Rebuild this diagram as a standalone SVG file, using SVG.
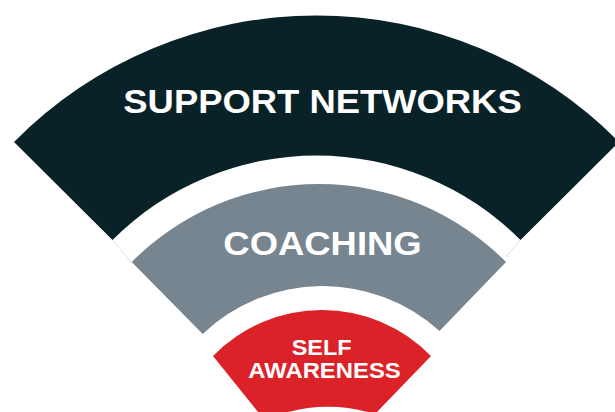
<svg xmlns="http://www.w3.org/2000/svg" width="615" height="412" viewBox="0 0 615 412">
<style>
.lbl{font-family:"Liberation Sans",Arial,sans-serif;font-weight:bold;fill:#ffffff;text-anchor:middle}
.big{font-size:33px}
.small{font-size:22px}
.seam{stroke:#cdd4d6;stroke-width:0.7;fill:none}
</style>
<rect width="615" height="412" fill="#ffffff"/>
<g id="seams">
<line class="seam" x1="112.7" y1="240" x2="131.7" y2="263"/>
<line class="seam" x1="520" y1="240" x2="506" y2="257"/>
</g>
<g id="node-support-networks">
<path d="M14,142 A425,425 0 0 1 619,142 L520.5,240 A288.5,288.5 0 0 0 112.5,240 Z" fill="#082228"/>
<text class="lbl big" transform="translate(322.5,112.7) scale(1.103,1)">SUPPORT NETWORKS</text>
</g>
<g id="node-coaching">
<path d="M131.7,262 A263.6,263.6 0 0 1 506,262 L439.5,331 A174,174 0 0 0 202.7,334 Z" fill="#778590"/>
<text class="lbl big" transform="translate(322.5,255) scale(1.104,1)">COACHING</text>
</g>
<g id="node-self-awareness">
<path d="M213,356 A152,152 0 0 1 431,356 L377,412 L368,412 A160,160 0 0 0 288,412 L258,412 Z" fill="#dc2229"/>
<text class="lbl small" transform="translate(321.7,355) scale(1.067,1)">SELF</text>
<text class="lbl small" transform="translate(324.5,378.3) scale(1.084,1)">AWARENESS</text>
</g>
</svg>
